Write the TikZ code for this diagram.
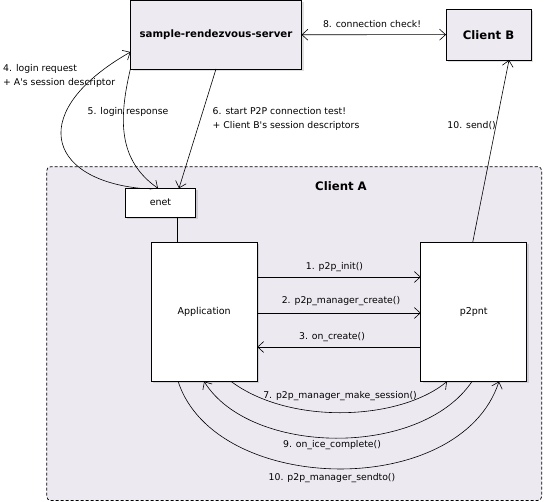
\documentclass[tikz,border=0pt]{standalone}
\usepackage{fontspec}
\setmainfont{DejaVu Sans}[Ligatures=TeXOff]
\usetikzlibrary{arrows.meta,shadows}
\definecolor{boxfill}{RGB}{238,234,242}
\definecolor{contfill}{RGB}{237,233,241}
\tikzset{
  lbl/.style={font=\fontsize{9.3}{14}\selectfont, inner sep=0pt, align=left},
  boldlbl/.style={font=\fontsize{11.7}{14}\selectfont\bfseries, inner sep=0pt},
  shadowed/.style={drop shadow={shadow xshift=2pt, shadow yshift=-2pt, fill=black, opacity=0.12}},
  bigbox/.style={draw=black, line width=0.8pt, fill=boxfill, inner sep=0pt, outer sep=0pt, shadowed},
  whitebox/.style={draw=black, line width=0.8pt, fill=white, inner sep=0pt, outer sep=0pt, shadowed,
    font=\fontsize{9.5}{11}\selectfont},
  container/.style={draw=black, line width=0.7pt, dash pattern=on 3pt off 2pt, rounded corners=4pt,
    fill=contfill, inner sep=0pt, outer sep=0pt},
  conn/.style={draw=black, line width=0.6pt},
  arr/.style={conn, -{Straight Barb[length=6pt,width=11pt]}},
  darr/.style={conn, {Straight Barb[length=6pt,width=11pt]}-{Straight Barb[length=6pt,width=11pt]}},
}
\begin{document}
\begin{tikzpicture}[x=1pt,y=-1pt]
\useasboundingbox (0,0) rectangle (544,502);
\fill[white] (0,0) rectangle (544,502);

% container
\node[container, minimum width=495pt, minimum height=333.8pt] (clientA) at (294.2,333.6) {};
\node[boldlbl] (clientAlbl) at (341,186) {Client A};

% top boxes
\node[bigbox, minimum width=171pt, minimum height=68.5pt,
      font=\fontsize{10.2}{12}\selectfont\bfseries] (server) at (216,34.75) {sample-rendezvous-server};
\node[bigbox, minimum width=85pt, minimum height=50.7pt,
      font=\fontsize{11.7}{14}\selectfont\bfseries] (clientB) at (488.5,34.65) {Client B};

% inner boxes
\node[whitebox, minimum width=70.4pt, minimum height=28.7pt] (enet) at (160.5,202.65) {enet};
\node[whitebox, minimum width=106.3pt, minimum height=139.2pt] (app) at (204.15,311.9) {Application};
\node[whitebox, minimum width=106pt, minimum height=139.2pt] (p2pnt) at (473.7,311.9) {p2pnt};

% 8
\draw[darr] (server.east) -- (clientB.west);
\node[lbl] (l8) at (372,24.5) {8. connection check!};

% 4
\draw[arr] ([xshift=-20.5pt]enet.north) .. controls +(-95,-10) and +(-102,58) .. ([yshift=-17.25pt]server.west);
\node[lbl, anchor=west] (l4) at (3,76) {4. login request\\+ A's session descriptor};

% 5
\draw[arr] ([yshift=0.5pt]server.south west) .. controls +(-12,51) and +(-40,-28) .. ([xshift=-2.5pt]enet.north);
\node[lbl] (l5) at (128,112) {5. login response};

% 6
\draw[arr] (server.south) -- ([xshift=18.5pt]enet.north);
\node[lbl, anchor=west] (l6) at (212.5,119) {6. start P2P connection test!\\+ Client B's session descriptors};

% enet - app
\draw[conn, line width=0.8pt] ([xshift=17.2pt]enet.south) -- ([xshift=17.2pt]enet.south |- app.north);

% 1,2,3
\draw[arr] ([yshift=34.9pt]app.east) -- ([yshift=34.9pt]app.east -| p2pnt.west);
\node[lbl] (l1) at (334.5,267) {1. p2p\_init()};
\draw[arr] ([yshift=-1.1pt]app.east) -- ([yshift=-1.1pt]app.east -| p2pnt.west);
\node[lbl] (l2) at (341,301) {2. p2p\_manager\_create()};
\draw[arr] ([yshift=-35.1pt]p2pnt.west) -- ([yshift=-35.1pt]p2pnt.west -| app.east);
\node[lbl] (l3) at (332,337) {3. on\_create()};

% send
\draw[arr] ([xshift=-1pt]p2pnt.north) -- ([xshift=20.5pt]clientB.south);
\node[lbl, anchor=east] (l10s) at (496,126) {10. send()};

% 7
\draw[arr] ([xshift=27pt]app.south) .. controls +(59,44) and +(-47,39) .. ([xshift=-26.7pt]p2pnt.south);
\node[lbl] (l7) at (340,396) {7. p2p\_manager\_make\_session()};

% 9
\draw[arr] ([xshift=-1.7pt]p2pnt.south) .. controls +(-52,77) and +(46,74) .. (app.south);
\node[lbl] (l9) at (332,445) {9. on\_ice\_complete()};

% 10
\draw[arr] ([xshift=-26pt]app.south) .. controls +(37,114) and +(-39,119) .. ([xshift=25.3pt]p2pnt.south);
\node[lbl] (l10) at (332,478) {10. p2p\_manager\_sendto()};
\end{tikzpicture}
\end{document}
